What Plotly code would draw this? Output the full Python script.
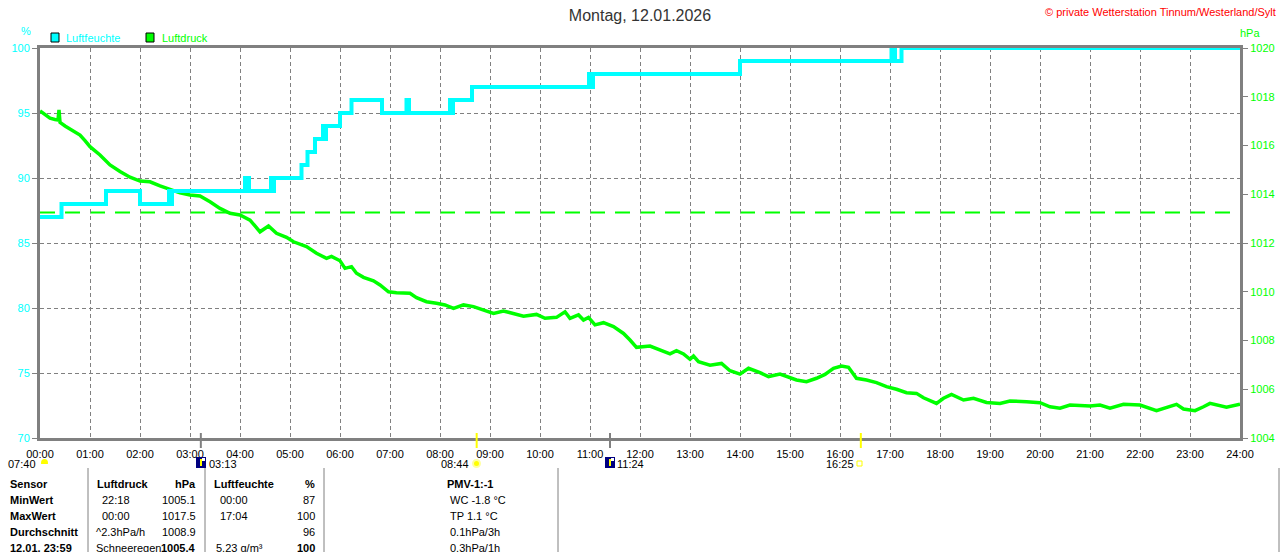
import plotly.graph_objects as go

# ---------------- data ----------------
hour_ticks = list(range(0, 25))
hour_labels = [f"{h:02d}:00" for h in hour_ticks]

hum_ticks = [70, 75, 80, 85, 90, 95, 100]
press_ticks = [1004, 1006, 1008, 1010, 1012, 1014, 1016, 1018, 1020]
std_pressure = 1013.25

# Luftfeuchte (%), step series: time of change (h) and new value
hum_t = [0.0, 0.43, 1.32, 2.0, 2.58, 2.61, 2.64, 4.10, 4.18, 4.62, 4.65, 4.68,
         5.23, 5.35, 5.50, 5.66, 5.69, 5.72, 6.0, 6.23, 6.84, 7.33, 7.38,
         8.20, 8.23, 8.26, 8.64, 10.98, 11.02, 11.06, 14.0, 17.03, 17.10, 17.23, 24.0]
hum_v = [87, 88, 89, 88, 89, 88, 89, 90, 89, 90, 89, 90,
         91, 92, 93, 94, 93, 94, 95, 96, 95, 96, 95,
         96, 95, 96, 97, 98, 97, 98, 99, 100, 99, 100, 100]

# Luftdruck (hPa)
press_t = [0.0, 0.2, 0.3, 0.36, 0.38, 0.40, 0.5, 0.67, 0.8, 0.9, 1.0, 1.2, 1.4, 1.6, 1.8,
           2.0, 2.2, 2.4, 2.6, 2.8, 3.0, 3.2, 3.4, 3.6, 3.8, 4.0, 4.2, 4.4, 4.57, 4.73,
           4.93, 5.07, 5.33, 5.53, 5.73, 5.83, 6.0, 6.1, 6.23, 6.33, 6.47, 6.67, 6.8,
           6.97, 7.13, 7.4, 7.53, 7.73, 7.93, 8.1, 8.27, 8.47, 8.67, 8.77, 8.93, 9.07,
           9.27, 9.43, 9.67, 9.93, 10.1, 10.33, 10.5, 10.6, 10.77, 10.87, 10.97, 11.1,
           11.27, 11.47, 11.67, 11.8, 11.93, 12.2, 12.4, 12.6, 12.73, 12.87, 13.0, 13.07,
           13.17, 13.4, 13.63, 13.8, 14.0, 14.17, 14.4, 14.57, 14.8, 15.0, 15.13, 15.33,
           15.53, 15.7, 15.87, 16.03, 16.17, 16.33, 16.53, 16.73, 16.93, 17.13, 17.33,
           17.53, 17.67, 17.93, 18.07, 18.23, 18.47, 18.67, 18.93, 19.2, 19.4, 19.73,
           20.0, 20.2, 20.4, 20.6, 21.0, 21.2, 21.4, 21.67, 22.0, 22.33, 22.73, 22.87,
           23.1, 23.27, 23.4, 23.73, 24.0]
press_v = [1017.42, 1017.12, 1017.07, 1017.05, 1017.46, 1016.95, 1016.80, 1016.57, 1016.43,
           1016.20, 1015.95, 1015.61, 1015.20, 1014.93, 1014.70, 1014.54, 1014.51, 1014.34,
           1014.20, 1014.06, 1013.97, 1013.93, 1013.69, 1013.42, 1013.22, 1013.15, 1012.94,
           1012.46, 1012.70, 1012.40, 1012.23, 1012.05, 1011.85, 1011.58, 1011.37, 1011.45,
           1011.27, 1010.96, 1011.03, 1010.76, 1010.59, 1010.45, 1010.28, 1010.00, 1009.96,
           1009.94, 1009.76, 1009.59, 1009.53, 1009.46, 1009.32, 1009.46, 1009.39, 1009.32,
           1009.22, 1009.11, 1009.21, 1009.14, 1009.00, 1009.07, 1008.91, 1008.95, 1009.18,
           1008.91, 1009.05, 1008.84, 1008.95, 1008.64, 1008.73, 1008.57, 1008.29, 1008.02,
           1007.72, 1007.77, 1007.61, 1007.45, 1007.58, 1007.45, 1007.23, 1007.36, 1007.13,
           1006.99, 1007.06, 1006.76, 1006.62, 1006.86, 1006.68, 1006.52, 1006.62, 1006.49,
           1006.38, 1006.31, 1006.45, 1006.61, 1006.86, 1006.95, 1006.90, 1006.45, 1006.38,
           1006.27, 1006.11, 1006.00, 1005.86, 1005.83, 1005.65, 1005.42, 1005.63, 1005.79,
           1005.56, 1005.63, 1005.46, 1005.42, 1005.52, 1005.49, 1005.45, 1005.28, 1005.22,
           1005.35, 1005.31, 1005.35, 1005.22, 1005.38, 1005.35, 1005.12, 1005.38, 1005.19,
           1005.12, 1005.28, 1005.42, 1005.26, 1005.39]

# moon / sun events
moon_times = [3 + 13 / 60, 11 + 24 / 60]
moon_labels = ["03:13", "11:24"]
sun_times = [8 + 44 / 60, 16 + 25 / 60]
sun_labels = ["08:44", "16:25"]
moonset_label = "07:40"

title_text = "Montag, 12.01.2026"
copyright_text = "© private Wetterstation Tinnum/Westerland/Sylt"
legend_names = ["Luftfeuchte", "Luftdruck"]

table_header = ["Sensor", "Luftdruck", "hPa", "Luftfeuchte", "%", "PMV-1:-1"]
table_rows = [
    ["MinWert", "22:18", "1005.1", "00:00", "87", "WC -1.8 °C"],
    ["MaxWert", "00:00", "1017.5", "17:04", "100", "TP 1.1 °C"],
    ["Durchschnitt", "^2.3hPa/h", "1008.9", "", "96", "0.1hPa/3h"],
    ["12.01. 23:59", "Schneeregen", "1005.4", "5.23 g/m³", "100", "0.3hPa/1h"],
]

# ---------------- layout helpers ----------------
W, H = 1280, 552
L, R, T, B = 40, 1240, 48, 438
CYAN = "#00FFFF"
GREEN = "#00FF00"
GRAY = "#808080"
FONT = "Liberation Sans"


def px(x):
    return (x - L) / (R - L)


def py(y):
    return (B - y) / (B - T)


fig = go.Figure()

# pressure on primary y (right side), humidity on overlay (left side) so cyan is on top
fig.add_trace(go.Scatter(x=press_t, y=press_v, mode="lines", name=legend_names[1],
                         line=dict(color=GREEN, width=3.5), yaxis="y",
                         showlegend=False, hoverinfo="skip"))
fig.add_trace(go.Scatter(x=hum_t, y=hum_v, mode="lines", name=legend_names[0],
                         line=dict(color=CYAN, width=4, shape="hv"), yaxis="y2",
                         showlegend=False, hoverinfo="skip"))

shapes = []
# standard pressure dashed line
shapes.append(dict(type="line", xref="x", yref="y", x0=0, x1=24, y0=std_pressure, y1=std_pressure,
                   line=dict(color=GREEN, width=2, dash="15px,10px"), layer="below"))

# event markers on x-axis
for t in moon_times:
    shapes.append(dict(type="line", xref="x", yref="paper", x0=t, x1=t, y0=py(433), y1=py(448),
                       line=dict(color=GRAY, width=2)))
for t in sun_times:
    shapes.append(dict(type="line", xref="x", yref="paper", x0=t, x1=t, y0=py(433), y1=py(448),
                       line=dict(color="#FFFF00", width=2)))


def rect(x0, y0, x1, y1, fill, line=None, lw=0, kind="rect"):
    shapes.append(dict(type=kind, xref="paper", yref="paper", x0=px(x0), x1=px(x1),
                       y0=py(y1), y1=py(y0), fillcolor=fill,
                       line=dict(color=line or fill, width=lw)))


# legend squares
rect(51, 33, 59, 42, CYAN, "black", 1)
rect(146, 33, 154, 42, GREEN, "black", 1)

# icons
rect(41, 459, 48, 467, "#FFFF00", kind="circle")
rect(40, 464, 49, 469, "white")
for xm in [201, 610]:
    rect(xm - 5, 457, xm + 5, 468, "#000080")
    rect(xm - 1, 459, xm + 1, 466, "#FFFF00")
    rect(xm + 1, 458, xm + 4, 461, "white")
rect(472, 459, 481, 468, "#FFFFA0", kind="circle")
rect(474, 461, 479, 466, "#FFFF00", kind="circle")
rect(857, 461, 862, 466, "white", "#FFFF00", 1)

# table separators
for xs in [88, 205, 324, 558, 1279]:
    shapes.append(dict(type="line", xref="paper", yref="paper", x0=px(xs), x1=px(xs),
                       y0=py(468), y1=py(560), line=dict(color=GRAY, width=1)))

annotations = []


def text(x, y, s, color="black", size=11, anchor="left", bold=False):
    if bold:
        s = f"<b>{s}</b>"
    annotations.append(dict(xref="paper", yref="paper", x=px(x), y=py(y), text=s,
                            showarrow=False, xanchor=anchor, yanchor="middle",
                            font=dict(family=FONT, size=size, color=color)))


text(1278, 12, copyright_text, "#FF0000", 11, "right")
text(26, 31, "%", CYAN, 11, "center")
text(1250, 33, "hPa", GREEN, 11, "center")
text(64, 38, legend_names[0], CYAN)
text(160, 38, legend_names[1], GREEN)

text(38, 464, moonset_label, anchor="right")
text(207, 464, moon_labels[0])
text(615, 464, moon_labels[1])
text(471, 464, sun_labels[0], anchor="right")
text(856, 464, sun_labels[1], anchor="right")

# table
row_y = [484, 500, 516, 532, 548]
text(8, row_y[0], table_header[0], bold=True)
text(95, row_y[0], table_header[1], bold=True)
text(198, row_y[0], table_header[2], anchor="right", bold=True)
text(212, row_y[0], table_header[3], bold=True)
text(317, row_y[0], table_header[4], anchor="right", bold=True)
text(470, row_y[0], table_header[5], anchor="center", bold=True)
for i, row in enumerate(table_rows):
    y = row_y[i + 1]
    last = i == len(table_rows) - 1
    text(8, y, row[0], bold=True)
    text(100 if not last and i != 2 else 94, y, row[1])
    text(198, y, row[2], anchor="right", bold=last)
    text(218 if not last else 214, y, row[3])
    text(317, y, row[4], anchor="right", bold=last)
    text(448, y, row[5])

fig.update_layout(
    width=W, height=H, autosize=False,
    margin=dict(l=L, r=W - R, t=T, b=H - B, pad=0, autoexpand=False),
    paper_bgcolor="white", plot_bgcolor="white",
    font=dict(family=FONT, size=11, color="black"),
    title=dict(text=title_text, x=0.5, xanchor="center", y=1 - 15 / H, yanchor="middle",
               yref="container", automargin=False,
               font=dict(family=FONT, size=16, color="#333333")),
    showlegend=False,
    xaxis=dict(range=[0, 24], tickvals=hour_ticks, ticktext=hour_labels,
               showgrid=True, gridcolor=GRAY, griddash="4px,3px", gridwidth=1,
               showline=True, linecolor=GRAY, linewidth=3, mirror=True,
               ticks="outside", ticklen=4, tickcolor="rgba(0,0,0,0)",
               zeroline=False, layer="below traces", automargin=False,
               tickfont=dict(family=FONT, size=11, color="black")),
    yaxis=dict(range=[1004, 1020], tickvals=press_ticks, side="right",
               showgrid=False, zeroline=False, automargin=False,
               showline=True, linecolor=GRAY, linewidth=3,
               ticks="outside", ticklen=5, tickcolor=GRAY, tickwidth=1,
               tickfont=dict(family=FONT, size=11, color=GREEN), layer="below traces"),
    yaxis2=dict(range=[70, 100], tickvals=hum_ticks, side="left", overlaying="y",
                showgrid=True, gridcolor=GRAY, griddash="4px,3px", gridwidth=1,
                zeroline=False, showline=True, linecolor=GRAY, linewidth=3, automargin=False,
                ticks="outside", ticklen=5, tickcolor=GRAY, tickwidth=1,
                tickfont=dict(family=FONT, size=11, color=CYAN), layer="below traces"),
    shapes=shapes,
    annotations=annotations,
)

fig.write_html("out.html", config={"displayModeBar": False, "responsive": False},
               post_script="document.body.style.margin='0';document.body.style.overflow='hidden';")
